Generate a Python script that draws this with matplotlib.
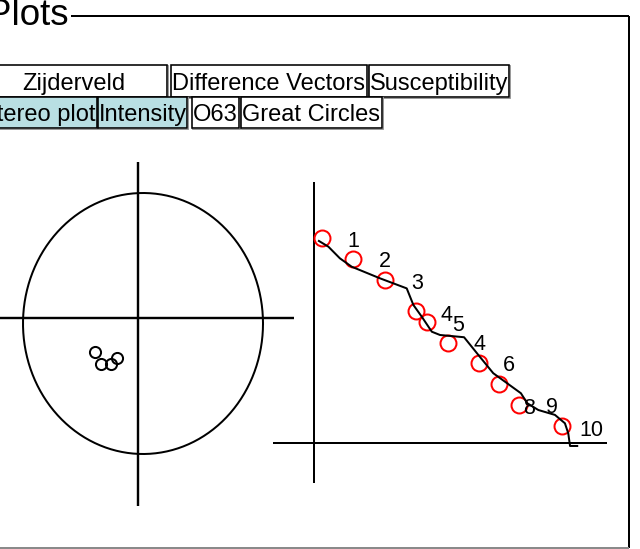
import matplotlib
matplotlib.use("Agg")
import matplotlib.pyplot as plt
import numpy as np
from matplotlib.patches import Rectangle

plt.rcParams['font.family'] = ['Liberation Sans', 'DejaVu Sans']

# ---------------- data ----------------
panel_title = "Plots"
buttons_row1 = ["Zijderveld", "Difference Vectors", "Susceptibility"]
buttons_row2 = ["Stereo plot", "Intensity", "O63", "Great Circles"]
active_buttons = ["Stereo plot", "Intensity"]

# stereo plot directions (projected, unit circle coordinates)
stereo_x = [-0.400, -0.350, -0.263, -0.217]
stereo_y = [-0.215, -0.310, -0.310, -0.264]

# intensity decay: demag step vs normalised intensity
step_x = [3.1, 15.2, 27.6, 39.6, 43.9, 52.1, 64.2, 72.1, 80.1, 96.9]
intensity = [1.000, 0.897, 0.796, 0.644, 0.590, 0.489, 0.388, 0.286, 0.184, 0.082]

curve_x = [1.8, 5.5, 10.0, 14.6, 25.7, 36.1, 38.7, 42.0, 45.9, 49.1, 58.5,
           64.1, 69.9, 80.7, 83.2, 87.5, 94.0, 97.9, 99.2, 99.9, 102.7]
curve_y = [0.987, 0.959, 0.902, 0.861, 0.804, 0.755, 0.674, 0.616, 0.543, 0.527, 0.516,
           0.429, 0.340, 0.242, 0.193, 0.160, 0.136, 0.095, 0.046, -0.016, -0.016]

label_text = ["1", "2", "3", "4", "5", "4", "6", "8", "9", "10"]
label_x = [15.2, 27.6, 40.0, 51.7, 56.3, 64.5, 76.2, 84.0, 92.7, 108.4]
label_y = [0.955, 0.860, 0.754, 0.596, 0.547, 0.452, 0.351, 0.139, 0.143, 0.033]

# ---------------- layout ----------------
W, H = 640, 549
fig = plt.figure(figsize=(W / 100, H / 100), dpi=100)
fig.patch.set_facecolor("white")

PX = 0.72  # points per pixel at dpi 100

# overlay axes in pixel units for the panel frame and buttons
ui = fig.add_axes([0, 0, 1, 1])
ui.set_xlim(0, W)
ui.set_ylim(H, 0)
ui.axis("off")

ui.text(-13, 25, panel_title, fontsize=26.5, ha="left", va="baseline", color="black")
ui.plot([71, 628.5], [16, 16], color="black", lw=2 * PX, solid_capstyle="butt")
ui.plot([628.5, 628.5], [16, 548], color="black", lw=2 * PX, solid_capstyle="butt")
ui.plot([0, 629], [548, 548], color="#8a8a8a", lw=2 * PX, solid_capstyle="butt")

row1_box = [(-19, 167), (171, 367), (369, 509)]
row2_box = [(-20, 97), (98, 187), (192, 239), (241, 382)]
rows = [(buttons_row1, row1_box, 65, 97), (buttons_row2, row2_box, 97, 128)]
for labels, boxes, y0, y1 in rows:
    for lab, (x0, x1) in zip(labels, boxes):
        fc = "#b9dfe3" if lab in active_buttons else "white"
        ui.add_patch(Rectangle((x0 - 0.5, y0 - 0.5), x1 - x0 + 1, y1 - y0 + 1,
                               facecolor="none", edgecolor="#9a9a9a", lw=1 * PX))
        ui.add_patch(Rectangle((x0, y0), x1 - x0, y1 - y0, facecolor=fc,
                               edgecolor="black", lw=1.6 * PX))
        ui.text((x0 + x1) / 2, y1 - 7, lab, fontsize=17, ha="center",
                va="baseline", color="black")


def add_px_axes(x0, x1, y0, y1, ox, oy, sx, sy):
    ax = fig.add_axes([x0 / W, 1 - y1 / H, (x1 - x0) / W, (y1 - y0) / H])
    ax.set_xlim((x0 - ox) / sx, (x1 - ox) / sx)
    ax.set_ylim((oy - y1) / sy, (oy - y0) / sy)
    ax.axis("off")
    ax.patch.set_alpha(0)
    return ax


# ---- stereo plot ----
st = add_px_axes(0, 300, 150, 520, 143, 323.5, 120, 130.5)
theta = np.linspace(0, 2 * np.pi, 400)
st.plot(np.cos(theta), np.sin(theta), color="black", lw=2 * PX)
st.plot([-0.042, -0.042], [-1.398, 1.238], color="black", lw=2.4 * PX, solid_capstyle="butt")
st.plot([-1.2, 1.258], [0.042, 0.042], color="black", lw=2.4 * PX, solid_capstyle="butt")
st.plot(stereo_x, stereo_y, linestyle="none", marker="o", markersize=8,
        markerfacecolor="none", markeredgecolor="black", markeredgewidth=2 * PX)

# ---- intensity plot ----
it = add_px_axes(265, 615, 175, 495, 314.3, 442.7, 2.56, 204.4)
it.plot([0, 0], [-0.197, 1.275], color="black", lw=2 * PX, solid_capstyle="butt")
it.plot([-16.25, 114.3], [0, 0], color="black", lw=2 * PX, solid_capstyle="butt")
it.plot(step_x, intensity, linestyle="none", marker="o", markersize=11.5,
        markerfacecolor="none", markeredgecolor="red", markeredgewidth=2 * PX, zorder=2)
it.plot(curve_x, curve_y, color="black", lw=2 * PX, zorder=3)
for t, x, y in zip(label_text, label_x, label_y):
    it.text(x, y, t, fontsize=15.5, ha="center", va="baseline", color="black", zorder=4)

fig.savefig("out.png", dpi=100)
